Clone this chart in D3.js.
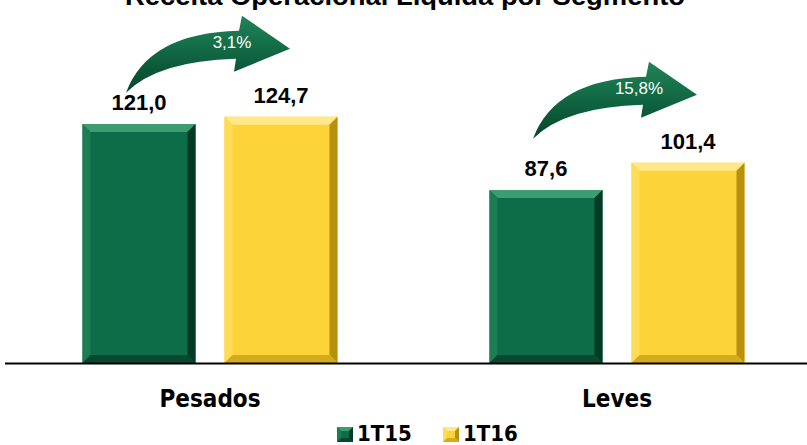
<!DOCTYPE html>
<html>
<head>
<meta charset="utf-8">
<script src="https://cdn.jsdelivr.net/npm/d3@7"></script>
<style>
  html, body { margin: 0; padding: 0; background: #fff; }
  svg { display: block; }
</style>
</head>
<body>
<svg id="chart" width="807" height="445"></svg>
<script>
// ---- data ----
const categories = ["Pesados", "Leves"];
const seriesNames = ["1T15", "1T16"];
const values1T15 = [121.0, 87.6];
const values1T16 = [124.7, 101.4];
const growthLabels = ["3,1%", "15,8%"];
const title = "Receita Operacional Líquida por Segmento";

const W = 807, H = 445;
const svg = d3.select("#chart");
const defs = svg.append("defs");

const palette = {
  "1T15": { main: "#0c6d48", top: "#3c9c72", left: "#1a7d55", right: "#053a25", bottom: "#07482f" },
  "1T16": { main: "#fdd33a", top: "#ffe88a", left: "#fedc55", right: "#b8900f", bottom: "#d4ab1e" }
};

const x0 = d3.scaleBand().domain(categories).range([6.5, 820.5]).paddingInner(0).paddingOuter(0);
const x1 = d3.scaleBand().domain(seriesNames).range([-127.5, 127.5]).paddingInner(29 / 142).paddingOuter(0);
const y = d3.scaleLinear().domain([0, 140]).range([363, 86.5]);

const data = categories.map((c, i) => ({
  cat: c,
  growth: growthLabels[i],
  bars: [
    { s: "1T15", v: values1T15[i] },
    { s: "1T16", v: values1T16[i] }
  ]
}));

const narrow = "'Liberation Sans Narrow', 'DejaVu Sans Condensed', sans-serif";

// title (cut off at top, as in the source)
svg.append("text")
  .attr("x", 405).attr("y", 5)
  .attr("text-anchor", "middle")
  .attr("font-family", "'Liberation Sans', Arial, sans-serif")
  .attr("font-weight", "bold")
  .attr("font-size", 26)
  .attr("textLength", 560).attr("lengthAdjust", "spacingAndGlyphs")
  .attr("fill", "#000")
  .text(title);

// bevelled bar drawing
function bevelBar(g, x, yTop, w, h, col, bev) {
  const b = Math.min(bev || 8, h / 2);
  const yB = yTop + h;
  g.append("rect").attr("x", x).attr("y", yTop).attr("width", w).attr("height", h).attr("fill", col.main);
  g.append("polygon").attr("points", [[x, yTop], [x + w, yTop], [x + w - b, yTop + b], [x + b, yTop + b]].join(" "))
    .attr("fill", col.top);
  g.append("polygon").attr("points", [[x, yTop], [x + b, yTop + b], [x + b, yB - b], [x, yB]].join(" "))
    .attr("fill", col.left);
  g.append("polygon").attr("points", [[x + w, yTop], [x + w, yB], [x + w - b, yB - b], [x + w - b, yTop + b]].join(" "))
    .attr("fill", col.right);
  g.append("polygon").attr("points", [[x, yB], [x + b, yB - b], [x + w - b, yB - b], [x + w, yB]].join(" "))
    .attr("fill", col.bottom);
}

// arrow gradient
const grad = defs.append("linearGradient").attr("id", "arrowGrad")
  .attr("x1", "0").attr("y1", "0").attr("x2", "0").attr("y2", "1");
grad.append("stop").attr("offset", "0%").attr("stop-color", "#228257");
grad.append("stop").attr("offset", "35%").attr("stop-color", "#15704a");
grad.append("stop").attr("offset", "70%").attr("stop-color", "#0b5838");
grad.append("stop").attr("offset", "100%").attr("stop-color", "#08452c");

const groups = svg.selectAll("g.cat").data(data).join("g")
  .attr("class", "cat")
  .attr("transform", d => `translate(${x0(d.cat) + x0.bandwidth() / 2},0)`);

groups.each(function (d) {
  const g = d3.select(this);
  d.bars.forEach(b => {
    bevelBar(g, x1(b.s), y(b.v), x1.bandwidth(), y(0) - y(b.v), palette[b.s]);
    g.append("text")
      .attr("x", x1(b.s) + x1.bandwidth() / 2)
      .attr("y", y(b.v) - 14)
      .attr("text-anchor", "middle")
      .attr("font-family", "'Liberation Sans', Arial, sans-serif")
      .attr("font-weight", "bold")
      .attr("font-size", 22)
      .attr("fill", "#000")
      .text(b.v.toFixed(1).replace(".", ","));
  });

  // curved growth arrow, anchored to the second (taller) bar top
  const ay = y(d.bars[1].v);
  const path = d3.path();
  const P = (px, py) => [px, ay + py];
  let p, c, e;
  p = P(-84, -24); path.moveTo(p[0], p[1]);
  c = P(-62, -84); e = P(29, -86);
  path.quadraticCurveTo(c[0], c[1], e[0], e[1]);
  p = P(32, -101); path.lineTo(p[0], p[1]);
  p = P(80, -68); path.lineTo(p[0], p[1]);
  p = P(24, -45); path.lineTo(p[0], p[1]);
  p = P(26, -58); path.lineTo(p[0], p[1]);
  c = P(-52, -56); e = P(-84, -24);
  path.quadraticCurveTo(c[0], c[1], e[0], e[1]);
  path.closePath();
  g.append("path").attr("d", path.toString()).attr("fill", "url(#arrowGrad)");

  g.append("text")
    .attr("x", 22).attr("y", ay - 75)
    .attr("dy", "0.35em")
    .attr("text-anchor", "middle")
    .attr("font-family", "'Liberation Sans', Arial, sans-serif")
    .attr("font-size", 17)
    .attr("fill", "#fff")
    .text(d.growth);

  // category label
  g.append("text")
    .attr("x", 0).attr("y", 407)
    .attr("text-anchor", "middle")
    .attr("font-family", narrow)
    .attr("font-weight", "bold")
    .attr("font-size", 24)
    .attr("fill", "#000")
    .text(d.cat);
});

// baseline axis
svg.append("line")
  .attr("x1", 5).attr("x2", W).attr("y1", y(0) + 0.5).attr("y2", y(0) + 0.5)
  .attr("stroke", "#000").attr("stroke-width", 2);

// legend
const legendX = [337, 443];
seriesNames.forEach((s, i) => {
  const lg = svg.append("g");
  bevelBar(lg, legendX[i], 427, 16, 15, palette[s], 4);
  lg.append("text")
    .attr("x", legendX[i] + 20).attr("y", 441)
    .attr("font-family", narrow)
    .attr("font-weight", "bold")
    .attr("font-size", 22)
    .attr("fill", "#000")
    .text(s);
});
</script>
</body>
</html>
